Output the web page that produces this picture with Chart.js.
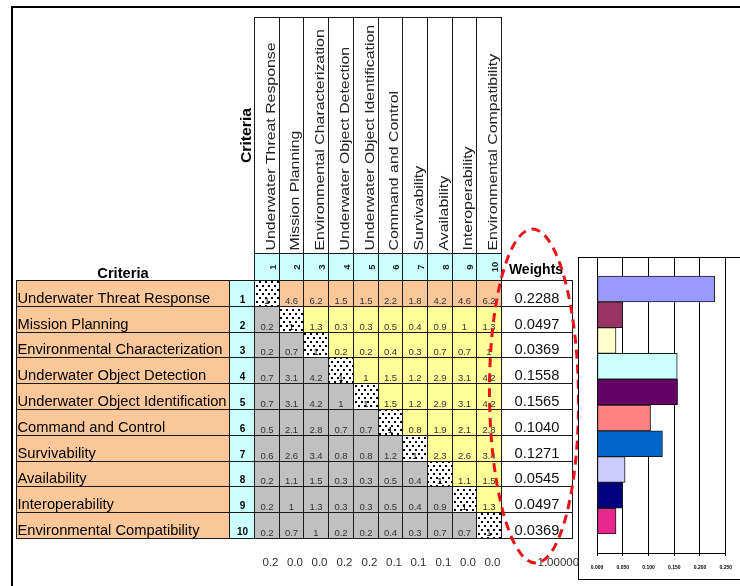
<!DOCTYPE html>
<html>
<head>
<meta charset="utf-8">
<script src="https://cdn.jsdelivr.net/npm/chart.js@4.4.1/dist/chart.umd.min.js"></script>
<style>
  html, body { margin: 0; padding: 0; background: #fff; overflow: hidden; }
  #page { position: relative; width: 740px; height: 586px; }
  #matrixCanvas { position: absolute; left: 0; top: 0; }
  #weightBox { position: absolute; left: 578px; top: 257px; width: 200px; height: 321px; border: 1px solid #000; background: #fff; }
  #weightCanvas { position: absolute; left: 0; top: 0; }
</style>
</head>
<body>
<div id="page">
  <canvas id="matrixCanvas" width="740" height="586"></canvas>
  <div id="weightBox"><canvas id="weightCanvas" width="162" height="320"></canvas></div>
</div>
<script>
const criteria = [
  "Underwater Threat Response",
  "Mission Planning",
  "Environmental Characterization",
  "Underwater Object Detection",
  "Underwater Object Identification",
  "Command and Control",
  "Survivability",
  "Availability",
  "Interoperability",
  "Environmental Compatibility"
];

// pairwise comparison matrix, row by row
const matrix = [
  [1, 4.6, 6.2, 1.5, 1.5, 2.2, 1.8, 4.2, 4.6, 6.2],
  [0.2, 1, 1.3, 0.3, 0.3, 0.5, 0.4, 0.9, 1, 1.3],
  [0.2, 0.7, 1, 0.2, 0.2, 0.4, 0.3, 0.7, 0.7, 1],
  [0.7, 3.1, 4.2, 1, 1, 1.5, 1.2, 2.9, 3.1, 4.2],
  [0.7, 3.1, 4.2, 1, 1, 1.5, 1.2, 2.9, 3.1, 4.2],
  [0.5, 2.1, 2.8, 0.7, 0.7, 1, 0.8, 1.9, 2.1, 2.8],
  [0.6, 2.6, 3.4, 0.8, 0.8, 1.2, 1, 2.3, 2.6, 3.4],
  [0.2, 1.1, 1.5, 0.3, 0.3, 0.5, 0.4, 1, 1.1, 1.5],
  [0.2, 1, 1.3, 0.3, 0.3, 0.5, 0.4, 0.9, 1, 1.3],
  [0.2, 0.7, 1, 0.2, 0.2, 0.4, 0.3, 0.7, 0.7, 1]
];

const weights = [0.2288, 0.0497, 0.0369, 0.1558, 0.1565, 0.1040, 0.1271, 0.0545, 0.0497, 0.0369];
const columnSums = [0.2, 0.0, 0.0, 0.2, 0.2, 0.1, 0.1, 0.1, 0.0, 0.0];
const weightTotal = 1.0;

const barColors = ["#9999ff", "#993366", "#ffffcc", "#ccffff", "#660066", "#ff8080", "#0066cc", "#ccccff", "#000080", "#e8288c"];

const FONT = "'Liberation Sans', Arial, sans-serif";
const ORANGE = "#fcc89a";
const CYAN = "#ccffff";
const YELLOW = "#ffff99";
const GREY = "#c0c0c0";

function vText(ctx, str, x, y, font, stretch, align) {
    ctx.save();
    ctx.translate(x, y);
    ctx.rotate(-Math.PI / 2);
    ctx.scale(stretch, 1);
    ctx.font = font;
    ctx.textAlign = align;
    ctx.textBaseline = "alphabetic";
    ctx.fillText(str, 0, 0);
    ctx.restore();
}

function dotPattern(ctx) {
    const tile = document.createElement("canvas");
    tile.width = 6;
    tile.height = 8;
    const t = tile.getContext("2d");
    t.fillStyle = "#fff";
    t.fillRect(0, 0, 6, 8);
    t.fillStyle = "#000";
    t.fillRect(1, 1, 2, 2);
    t.fillRect(4, 5, 2, 2);
    return ctx.createPattern(tile, "repeat");
}

const tablePlugin = {
    id: "ahpTable",
    afterDraw(chart) {
        const ctx = chart.ctx;
        const xs = chart.scales.x;
        const ys = chart.scales.y;
        const px = v => Math.round(xs.getPixelForValue(v)) + 0.5;
        const py = v => Math.round(ys.getPixelForValue(v)) + 0.5;
        const n = criteria.length;

        const labelLeft = 16.5;
        const numLeft = px(0) - 25;
        const headTop = 17.5;
        const numTop = py(0) - 27;
        const weightRight = px(n) + 71;
        const dots = dotPattern(ctx);

        ctx.save();

        // outer frame
        ctx.strokeStyle = "#000";
        ctx.lineWidth = 2;
        ctx.beginPath();
        ctx.moveTo(12, 600);
        ctx.lineTo(12, 7);
        ctx.lineTo(745, 7);
        ctx.stroke();

        ctx.lineWidth = 1;
        ctx.strokeStyle = "#1a1a1a";

        // column headers
        for (let j = 0; j < n; j++) {
            const x0 = px(j), x1 = px(j + 1);
            ctx.strokeRect(x0, headTop, x1 - x0, numTop - headTop);
            ctx.fillStyle = CYAN;
            ctx.fillRect(x0, numTop, x1 - x0, py(0) - numTop);
            ctx.strokeRect(x0, numTop, x1 - x0, py(0) - numTop);
            ctx.fillStyle = "#222";
            vText(ctx, criteria[j], x1 - 5, numTop - 3, "13px " + FONT, 1.22, "left");
            vText(ctx, String(j + 1), x1 - 4, (numTop + py(0)) / 2, "bold 9.5px " + FONT, 1, "center");
        }

        // row labels + matrix + weights
        for (let i = 0; i < n; i++) {
            const y0 = py(i), y1 = py(i + 1);
            ctx.fillStyle = ORANGE;
            ctx.fillRect(labelLeft, y0, numLeft - labelLeft, y1 - y0);
            ctx.strokeRect(labelLeft, y0, numLeft - labelLeft, y1 - y0);
            ctx.fillStyle = CYAN;
            ctx.fillRect(numLeft, y0, px(0) - numLeft, y1 - y0);
            ctx.strokeRect(numLeft, y0, px(0) - numLeft, y1 - y0);

            ctx.fillStyle = "#000";
            ctx.textBaseline = "alphabetic";
            ctx.textAlign = "left";
            ctx.font = "14.7px " + FONT;
            ctx.fillText(criteria[i], labelLeft + 1, y1 - 4);
            ctx.textAlign = "center";
            ctx.font = "bold 10px " + FONT;
            ctx.fillText(String(i + 1), (numLeft + px(0)) / 2 + 0.5, y1 - 3.5);

            for (let j = 0; j < n; j++) {
                const x0 = px(j), x1 = px(j + 1);
                if (i === j) ctx.fillStyle = dots;
                else if (i === 0) ctx.fillStyle = ORANGE;
                else if (j > i) ctx.fillStyle = YELLOW;
                else ctx.fillStyle = GREY;
                ctx.fillRect(x0, y0, x1 - x0, y1 - y0);
                ctx.strokeRect(x0, y0, x1 - x0, y1 - y0);
                ctx.fillStyle = i === j ? "#000" : "#333";
                ctx.font = "9.5px " + FONT;
                ctx.textAlign = "center";
                ctx.fillText(String(matrix[i][j]), (x0 + x1) / 2, y1 - 2.5);
            }

            ctx.fillStyle = "#fff";
            ctx.fillRect(px(n), y0, weightRight - px(n), y1 - y0);
            ctx.strokeRect(px(n), y0, weightRight - px(n), y1 - y0);
            ctx.fillStyle = "#111";
            ctx.font = "14.7px " + FONT;
            ctx.fillText(weights[i].toFixed(4), (px(n) + weightRight) / 2, y1 - 4);
        }

        // headers
        ctx.fillStyle = "#000";
        ctx.textAlign = "center";
        ctx.font = "bold 14.7px " + FONT;
        ctx.fillText("Criteria", (labelLeft + numLeft) / 2, py(0) - 3);
        ctx.font = "bold 14px " + FONT;
        ctx.fillText("Weights", (px(n) + weightRight) / 2 - 1, py(0) - 7);
        vText(ctx, "Criteria", px(0) - 3.5, 135.5, "bold 15px " + FONT, 1.05, "center");

        // column sums and total
        ctx.fillStyle = "#333";
        ctx.font = "11.5px " + FONT;
        for (let j = 0; j < n; j++) {
            ctx.fillText(columnSums[j].toFixed(1), (px(j) + px(j + 1)) / 2 + 3.5, py(n) + 27);
        }
        ctx.textAlign = "left";
        ctx.fillText(weightTotal.toFixed(5), px(n) + 36, py(n) + 27);

        // red dashed ellipse around the weights
        ctx.strokeStyle = "#e8141b";
        ctx.lineWidth = 3;
        ctx.setLineDash([9, 6]);
        ctx.beginPath();
        ctx.ellipse((px(n) + weightRight) / 2 - 3, ys.getPixelForValue(n / 2 - 0.5), 44.5, 167, -0.01, 0, Math.PI * 2);
        ctx.stroke();

        ctx.restore();
    }
};

new Chart(document.getElementById("matrixCanvas"), {
    type: "scatter",
    data: { datasets: [] },
    options: {
        responsive: false,
        animation: false,
        devicePixelRatio: 1,
        layout: { padding: { left: 254, right: 239, top: 280, bottom: 48 } },
        plugins: { legend: { display: false }, tooltip: { enabled: false } },
        scales: {
            x: { type: "linear", display: false, min: 0, max: criteria.length },
            y: { type: "linear", display: false, min: 0, max: criteria.length, reverse: true }
        }
    },
    plugins: [tablePlugin]
});

new Chart(document.getElementById("weightCanvas"), {
    type: "bar",
    data: {
        datasets: [{
            data: weights.map((w, i) => ({ x: w, y: i + 1 })),
            backgroundColor: barColors,
            borderColor: "#1a1a1a",
            borderWidth: 1,
            borderSkipped: false,
            barPercentage: 1,
            categoryPercentage: 1
        }]
    },
    options: {
        indexAxis: "y",
        responsive: false,
        animation: false,
        devicePixelRatio: 1,
        layout: { padding: { left: 18, right: 15, top: 0, bottom: 0 } },
        plugins: { legend: { display: false }, tooltip: { enabled: false } },
        scales: {
            y: {
                type: "linear",
                display: false,
                reverse: true,
                offset: false,
                grid: { offset: false },
                min: -0.198,
                max: 11.236
            },
            x: {
                type: "linear",
                min: 0,
                max: 0.25,
                ticks: {
                    stepSize: 0.05,
                    callback: v => v.toFixed(3),
                    font: { size: 5, weight: "bold", family: FONT },
                    color: "#000",
                    padding: 9,
                    maxRotation: 0
                },
                grid: { color: "#000", lineWidth: 1, tickLength: 3 },
                border: { color: "#000", width: 1 },
                afterFit: s => { s.height = 25; }
            }
        }
    }
});
</script>
</body>
</html>
